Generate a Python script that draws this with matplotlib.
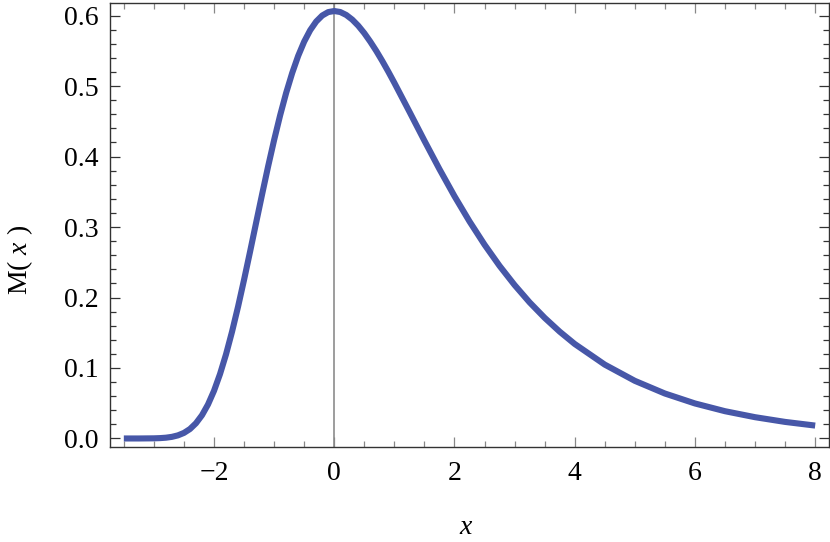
import matplotlib
matplotlib.use("Agg")
import matplotlib.pyplot as plt
from matplotlib.ticker import MultipleLocator, FixedLocator

plt.rcParams['font.family'] = ['Liberation Serif', 'DejaVu Serif']
plt.rcParams['mathtext.fontset'] = 'custom'
plt.rcParams['mathtext.rm'] = 'Liberation Serif'
plt.rcParams['mathtext.it'] = 'Liberation Serif:italic'

x_vals = [-3.5, -3.25, -3.0, -2.9, -2.8, -2.7, -2.6, -2.5, -2.4, -2.3, -2.2, -2.1,
          -2.0, -1.9, -1.8, -1.7, -1.6, -1.5, -1.4, -1.3, -1.2, -1.1,
          -1.0, -0.9, -0.8, -0.7, -0.6, -0.5, -0.4, -0.3, -0.2, -0.1,
          0.0, 0.1, 0.2, 0.3, 0.4, 0.5, 0.6, 0.7, 0.8, 0.9,
          1.0, 1.25, 1.5, 1.75, 2.0, 2.25, 2.5, 2.75, 3.0, 3.25, 3.5, 3.75,
          4.0, 4.5, 5.0, 5.5, 6.0, 6.5, 7.0, 7.5, 8.0]
m_vals = [0.0000, 0.0000, 0.0002, 0.0005, 0.0011, 0.0023, 0.0044, 0.0079, 0.0134, 0.0216, 0.0330, 0.0482,
          0.0676, 0.0914, 0.1194, 0.1515, 0.1870, 0.2252, 0.2651, 0.3059, 0.3464, 0.3860,
          0.4235, 0.4585, 0.4903, 0.5184, 0.5428, 0.5631, 0.5793, 0.5916, 0.6001, 0.6050,
          0.6065, 0.6051, 0.6009, 0.5943, 0.5856, 0.5751, 0.5630, 0.5498, 0.5355, 0.5204,
          0.5046, 0.4638, 0.4225, 0.3822, 0.3438, 0.3080, 0.2750, 0.2449, 0.2177, 0.1931, 0.1712, 0.1516,
          0.1341, 0.1048, 0.0818, 0.0638, 0.0497, 0.0387, 0.0302, 0.0235, 0.0183]

x_ticks = [-2, 0, 2, 4, 6, 8]
x_ticklabels = ["\u22122", "0", "2", "4", "6", "8"]
y_ticks = [0.0, 0.1, 0.2, 0.3, 0.4, 0.5, 0.6]
y_ticklabels = ["0.0", "0.1", "0.2", "0.3", "0.4", "0.5", "0.6"]

W, H = 830, 542
fig = plt.figure(figsize=(W / 100, H / 100), dpi=100)
left, right, top, bottom = 110, 829, 2.5, 447
ax = fig.add_axes([left / W, 1 - bottom / H, (right - left) / W, (bottom - top) / H])

ax.axvline(0, color='#8c8c8c', lw=1.2, zorder=1)
ax.plot(x_vals, m_vals, color='#4757a8', lw=4.4, solid_capstyle='butt',
        solid_joinstyle='round', zorder=3)

ax.set_xlim(-3.73, 8.23)
ax.set_ylim(-0.0121, 0.6186)

ax.xaxis.set_major_locator(FixedLocator(x_ticks))
ax.set_xticklabels(x_ticklabels)
ax.xaxis.set_minor_locator(MultipleLocator(0.5))
ax.yaxis.set_major_locator(FixedLocator(y_ticks))
ax.set_yticklabels(y_ticklabels)
ax.yaxis.set_minor_locator(MultipleLocator(0.02))

ax.tick_params(which='both', direction='in', top=True, right=True,
               labeltop=False, labelright=False, color='#333333', width=0.9)
ax.tick_params(which='major', length=7, labelsize=20)
ax.tick_params(which='minor', length=4)
ax.tick_params(axis='x', which='both', color='#888888')
ax.tick_params(axis='x', which='major', pad=10)
ax.tick_params(axis='y', which='major', pad=8)
for s in ax.spines.values():
    s.set_color('#333333')
    s.set_linewidth(1.0)

fig.text(466 / W, 1 - 528 / H, "$x$", fontsize=20, ha='center', va='center')
fig.text(20 / W, 1 - 260 / H, "M( $x$ )", fontsize=20, ha='center', va='center',
         rotation=90)

fig.savefig("out.png", dpi=100)
